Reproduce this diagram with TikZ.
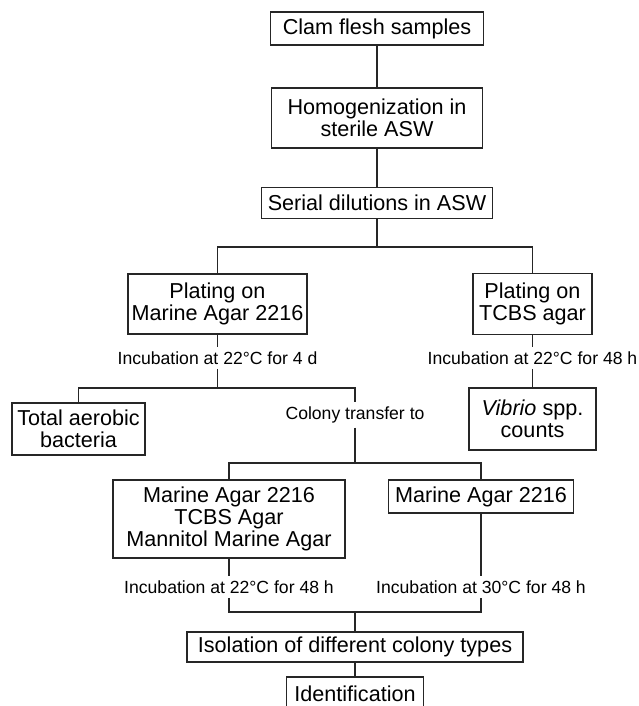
\documentclass[tikz,border=0pt]{standalone}
\usepackage{fontspec}
\setmainfont{Liberation Sans}
\usetikzlibrary{shapes,calc}
\tikzstyle{line} = [draw=black!85, line width=0.55pt]
\tikzstyle{block} = [draw=black!85, line width=0.55pt, rectangle, align=center, inner sep=0pt, font=\fontsize{10.8}{11}\selectfont]
\tikzstyle{incub} = [rectangle, align=center, inner sep=2pt, font=\fontsize{8.8}{10}\selectfont]

\begin{document}
\begin{tikzpicture}[x=0.5pt, y=0.5pt, node distance=20pt]
        \useasboundingbox (0,0) rectangle (638,-706);
        \node[block, minimum width=106.5pt, minimum height=16.5pt] (clam) at (377,-28.5) {Clam flesh samples};
        \node[block, minimum width=105.5pt, minimum height=30pt, below of=clam, node distance=44.75pt] (homog) {Homogenization in\\sterile ASW};
        \node[block, minimum width=115.5pt, minimum height=15.5pt, below of=homog, node distance=42.5pt] (serial) {Serial dilutions in ASW};
        \node[block, minimum width=89.5pt, minimum height=30pt] (platma) at (217.5,-304) {Plating on\\Marine Agar 2216};
        \node[block, minimum width=59.5pt, minimum height=30.5pt, right of=platma, node distance=157.5pt] (plattcbs) {Plating on\\TCBS agar};
        \node[incub, below of=platma, node distance=27pt] (inc1) {Incubation at 22°C for 4 d};
        \node[incub, below of=plattcbs, node distance=27pt] (inc2) {Incubation at 22°C for 48 h};
        \node[block, minimum width=66.5pt, minimum height=26pt] (total) at (78.5,-429) {Total aerobic\\bacteria};
        \node[incub] (colony) at (355,-415) {Colony transfer to};
        \node[block, minimum width=63.5pt, minimum height=31pt, below of=inc2, node distance=30.5pt] (vibrio) {\textit{Vibrio} spp.\\counts};
        \node[block, minimum width=116pt, minimum height=39pt] (mix) at (229,-519) {Marine Agar 2216\\TCBS Agar\\Mannitol Marine Agar};
        \node[block, minimum width=92.5pt, minimum height=16.5pt] (maright) at (481,-496.5) {Marine Agar 2216};
        \node[incub, below of=mix, node distance=34pt] (inc3) {Incubation at 22°C for 48 h};
        \node[incub, below of=maright, node distance=45.25pt] (inc4) {Incubation at 30°C for 48 h};
        \node[block, minimum width=168pt, minimum height=15pt] (isol) at (355,-647) {Isolation of different colony types};
        \node[block, minimum width=68.5pt, minimum height=17pt, below of=isol, node distance=23.5pt] (ident) {Identification};
        \coordinate (split1) at (377,-247);
        \coordinate (split2) at (217.5,-388);
        \coordinate (split3) at (355,-463);
        \coordinate (join) at (355,-612);
        \path[line] (clam) -- (homog);
        \path[line] (homog) -- (serial);
        \path[line] (serial) -- (split1);
        \path[line] (split1) -| (platma);
        \path[line] (split1) -| (plattcbs);
        \path[line] (platma) -- (inc1);
        \path[line] (inc1) -- (split2);
        \path[line] (split2) -| (total);
        \path[line] (split2) -| (colony);
        \path[line] (plattcbs) -- (inc2);
        \path[line] (inc2) -- (vibrio);
        \path[line] (colony) -- (split3);
        \path[line] (split3) -| (mix);
        \path[line] (split3) -| (maright);
        \path[line] (mix) -- (inc3);
        \path[line] (maright) -- (inc4);
        \path[line] (inc3) |- (join);
        \path[line] (inc4) |- (join);
        \path[line] (join) -- (isol);
        \path[line] (isol) -- (ident);
    \end{tikzpicture}
\end{document}
